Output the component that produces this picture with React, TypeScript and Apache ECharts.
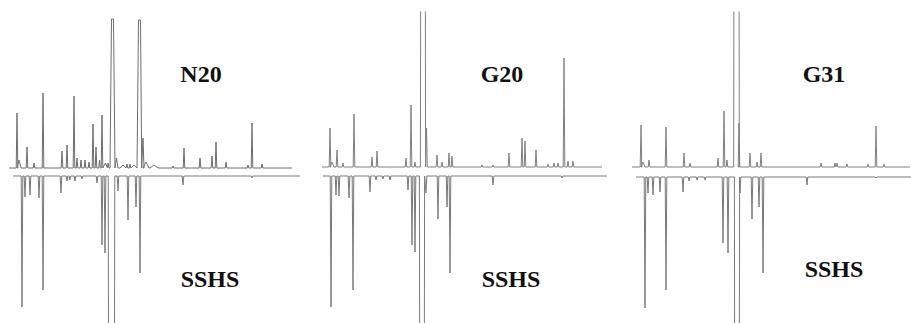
import React, { useEffect, useRef } from "react";
import * as echarts from "echarts";

// Peaks: [retention time (min), intensity, half-width?, flat-top width?]
type Peak = number[];

const panelLabels = ["N20", "G20", "G31"];
const lowerLabel = "SSHS";

// N20 (upper, panel 1)
const n20Peaks: Peak[] = [
  [0.9, 55], [1.1, 8, 0.2], [1.9, 21], [2.6, 5], [3.5, 75], [5.4, 17], [5.9, 23],
  [6.6, 72], [6.9, 10], [7.3, 8], [7.7, 8], [8.1, 6], [8.5, 44], [8.8, 21],
  [9.15, 8], [9.4, 53], [9.75, 5, 0.2], [10.0, 5, 0.1], [10.45, 149, 0.15, 0.2],
  [10.85, 10, 0.15], [11.5, 3, 0.3], [11.9, 4], [12.2, 4], [12.6, 3, 0.3],
  [13.15, 148, 0.12, 0.2], [13.5, 30, 0.1], [13.8, 6, 0.3], [14.6, 3, 0.4],
  [16.5, 2], [17.6, 20], [19.2, 10], [20.4, 12], [20.8, 26], [21.8, 6],
  [24.0, 3], [24.4, 45], [25.4, 4],
];
// SSHS (lower, panel 1)
const sshs1Peaks: Peak[] = [
  [1.4, 131], [1.7, 21], [2.2, 19], [3.1, 22], [3.5, 114], [5.3, 17],
  [5.9, 5], [6.2, 4], [6.7, 5], [7.4, 3], [8.9, 7], [9.4, 69], [9.7, 77],
  [10.35, 400, 0.08, 0.5], [11.0, 15], [12.0, 44], [12.8, 31], [13.2, 97],
  [17.5, 9], [24.4, 2],
];

// G20 (upper, panel 2)
const g20Peaks: Peak[] = [
  [1.2, 39], [1.4, 5, 0.2], [1.9, 17], [2.5, 4], [3.6, 53], [5.4, 10], [5.9, 16],
  [8.8, 9], [9.3, 62], [9.7, 5], [10.5, 400, 0.06, 0.4], [10.85, 39],
  [11.9, 12], [12.4, 5], [13.1, 14], [13.4, 11], [16.4, 2], [17.5, 2],
  [19.1, 14], [20.4, 29], [20.7, 26], [21.8, 17], [23.0, 3], [23.6, 4],
  [24.0, 4], [24.6, 109], [25.0, 6], [25.5, 6],
];
// SSHS (lower, panel 2)
const sshs2Peaks: Peak[] = [
  [1.3, 131], [1.8, 19], [2.1, 20], [3.1, 22], [3.5, 114], [5.2, 16],
  [5.8, 4], [6.5, 3], [7.2, 4], [9.0, 14], [9.4, 69], [9.7, 76],
  [10.4, 400, 0.06, 0.4], [10.8, 17], [12.0, 43], [12.9, 31], [13.2, 97],
  [17.5, 9], [24.4, 2],
];

// G31 (upper, panel 3)
const g31Peaks: Peak[] = [
  [1.0, 42], [1.2, 5, 0.2], [1.8, 7], [3.5, 40], [5.3, 14], [5.9, 4],
  [8.7, 9], [9.3, 56], [9.6, 7], [10.55, 400, 0.06, 0.45], [10.8, 44],
  [11.9, 14], [12.6, 5], [13.0, 14], [19.0, 4], [20.4, 4], [20.6, 4],
  [21.6, 3], [23.7, 3], [24.5, 41], [25.3, 3],
];
// SSHS (lower, panel 3)
const sshs3Peaks: Peak[] = [
  [1.4, 131], [1.7, 16], [2.2, 18], [2.9, 15], [3.5, 113], [5.2, 15],
  [5.8, 4], [6.6, 3], [7.4, 3], [9.2, 66], [9.7, 76],
  [10.6, 400, 0.06, 0.4], [10.9, 16], [12.1, 42], [12.8, 30], [13.2, 96],
  [17.6, 8], [24.5, 1],
];

// run ranges [start, end] and baseline offsets
const upperRanges = [[0.1, 28.4], [0.4, 28.4], [0.1, 27.9]];
const lowerRanges = [[0.5, 29.2], [0.5, 28.9], [0.5, 28.0]];
const upperBase = [4, 5, 5];
const lowerBase = [-4, -4, -5];
const xMax = [30, 30, 28];

function buildTrace(peaks: Peak[], range: number[], base: number, sign: number) {
  const pts: number[][] = [[range[0], base]];
  const sorted = [...peaks].sort((a, b) => a[0] - b[0]);
  for (const p of sorted) {
    const t = p[0];
    const h = p[1];
    const w = p[2] ?? 0.08;
    const flat = p[3] ?? 0;
    pts.push([t - flat / 2 - w, base]);
    pts.push([t - flat / 2, base + sign * h]);
    if (flat > 0) pts.push([t + flat / 2, base + sign * h]);
    pts.push([t + flat / 2 + w, base]);
  }
  pts.push([range[1], base]);
  return pts;
}

const upperPeaks = [n20Peaks, g20Peaks, g31Peaks];
const lowerPeaks = [sshs1Peaks, sshs2Peaks, sshs3Peaks];

export default function App() {
  const ref = useRef<HTMLDivElement>(null);
  useEffect(() => {
    if (!ref.current) return;
    const chart = echarts.init(ref.current, null, { renderer: "svg" });
    const lefts = [8, 318, 631];
    const grids = lefts.map((l, i) => ({
      left: l,
      top: 12,
      width: xMax[i] * 10,
      height: 311,
    }));
    const xAxes = grids.map((_, i) => ({
      type: "value",
      gridIndex: i,
      min: 0,
      max: xMax[i],
      show: false,
    }));
    const yAxes = grids.map((_, i) => ({
      type: "value",
      gridIndex: i,
      min: -151,
      max: 160,
      show: false,
    }));
    const series: any[] = [];
    for (let i = 0; i < 3; i++) {
      series.push({
        type: "line",
        xAxisIndex: i,
        yAxisIndex: i,
        data: buildTrace(upperPeaks[i], upperRanges[i], upperBase[i], 1),
        showSymbol: false,
        clip: true,
        lineStyle: { width: 1, color: i === 0 ? "#6e6e6e" : "#808080" },
        silent: true,
      });
      series.push({
        type: "line",
        xAxisIndex: i,
        yAxisIndex: i,
        data: buildTrace(lowerPeaks[i], lowerRanges[i], lowerBase[i], -1),
        showSymbol: false,
        clip: true,
        lineStyle: { width: 1, color: "#7a7a7a" },
        silent: true,
      });
    }
    const textStyle = {
      fontFamily: '"Liberation Serif", "Times New Roman", serif',
      fontWeight: "bold",
      fontSize: 24,
      fill: "#111",
      align: "center",
      verticalAlign: "middle",
    };
    const labelPos = [
      [201, 74, 210, 279],
      [502, 74, 511, 279],
      [824, 74, 834, 269],
    ];
    const graphic: any[] = [];
    labelPos.forEach((p, i) => {
      graphic.push({
        type: "text",
        x: p[0],
        y: p[1],
        style: { ...textStyle, text: panelLabels[i] },
      });
      graphic.push({
        type: "text",
        x: p[2],
        y: p[3],
        style: { ...textStyle, text: lowerLabel },
      });
    });
    chart.setOption({
      animation: false,
      backgroundColor: "#fff",
      grid: grids,
      xAxis: xAxes,
      yAxis: yAxes,
      series,
      graphic,
    });
    return () => chart.dispose();
  }, []);
  return (
    <div
      ref={ref}
      style={{ position: "fixed", left: 0, top: 0, width: 911, height: 323 }}
    />
  );
}
